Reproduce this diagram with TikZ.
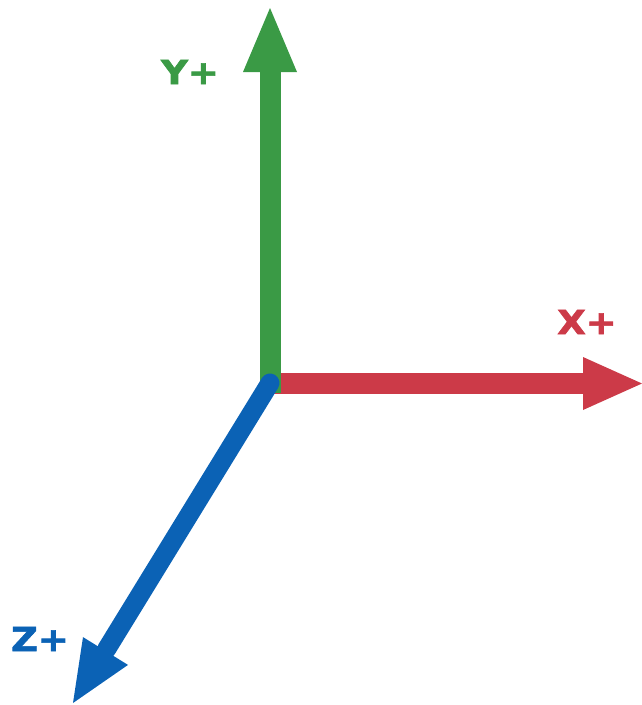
\documentclass[tikz,border=0pt]{standalone}
\usepackage{fontspec}
\setmainfont{DejaVu Sans}[BoldFeatures={FakeBold=2}]
\usetikzlibrary{calc}
\definecolor{axgreen}{RGB}{58,154,69}
\definecolor{axred}{RGB}{204,58,72}
\definecolor{axblue}{RGB}{11,98,181}
\tikzset{
  axlabel/.style={font=\bfseries\fontsize{33}{33}\selectfont, inner sep=0pt},
}
\begin{document}
\begin{tikzpicture}[x=1pt,y=-1pt]
\useasboundingbox (0,0) rectangle (642,705);
\coordinate (O) at (270,383);
% X axis
\coordinate (Xbase) at (583,383.5);
\coordinate (Xtip) at (642,383.5);
\draw[axred, line width=21pt] (260,383.5) -- (Xbase);
\fill[axred] (583,357) -- (Xtip) -- (583,410) -- cycle;
% Y axis
\coordinate (Ybase) at (270.5,72);
\coordinate (Ytip) at (270,8);
\draw[axgreen, line width=21pt] (270.5,393) -- (Ybase);
\fill[axgreen] (243,72) -- (Ytip) -- (297,72) -- cycle;
% Z axis
\coordinate (Zbase) at (105.5,651);
\coordinate (Ztip) at (73,703);
\draw[axblue, line width=19pt, line cap=round] (O) -- ($(Zbase)!-2pt!(Ztip)$);
\fill[axblue] (83,637.1) -- (Ztip) -- (128,664.9) -- cycle;
% labels
\node[axlabel, text=axgreen] (ylab) at (190,72) {\scalebox{1.12}[1]{Y+}};
\node[axlabel, text=axred] (xlab) at (587,322) {\scalebox{1.12}[1]{X+}};
\node[axlabel, text=axblue] (zlab) at (40,639) {\scalebox{1.12}[1]{Z+}};
\end{tikzpicture}
\end{document}
